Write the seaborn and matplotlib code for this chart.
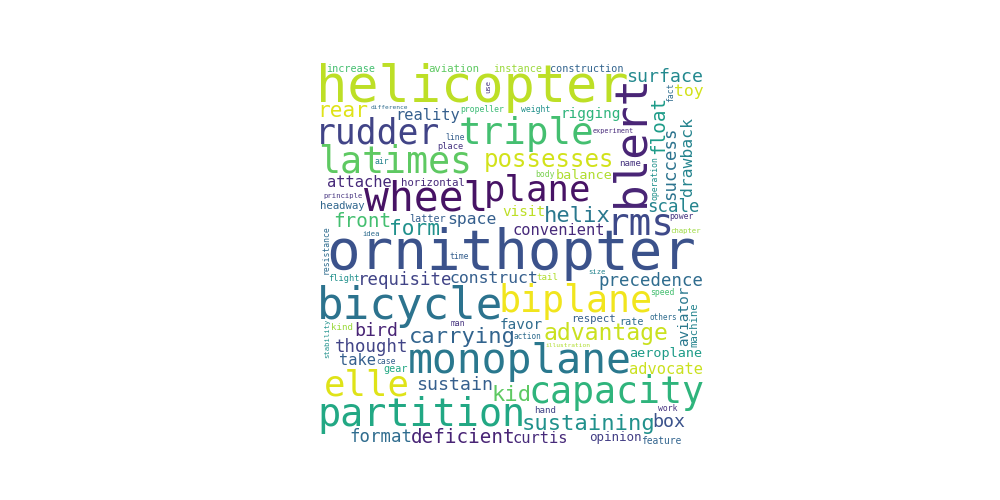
import numpy as np
import matplotlib
matplotlib.use("Agg")
import matplotlib.pyplot as plt
import seaborn as sns
from matplotlib import font_manager
from matplotlib.ft2font import FT2Font

# word weights (bigger = more frequent)
words = ["ornithopter", "helicopter", "bicycle", "blert", "monoplane", "wheel",
         "partition", "rms", "triple", "biplane", "latimes", "capacity", "plane",
         "elle", "rudder", "possesses", "advantage", "sustaining", "carrying",
         "helix", "kid", "form", "rear", "float", "precedence", "deficient",
         "front", "box", "convenient", "requisite", "bird", "surface", "sustain",
         "thought", "format", "scale", "aeroplane", "reality", "attache",
         "rigging", "success", "space", "construct", "toy", "drawback",
         "aviator", "take", "opinion", "advocate", "curtis", "favor", "balance",
         "visit", "horizontal", "aviation", "headway", "respect", "machine",
         "latter", "increase", "rate", "instance", "gear", "construction",
         "feature", "tail", "propeller", "kind", "name", "hand", "place",
         "flight", "speed", "weight", "man", "air", "work", "body", "principle",
         "resistance", "fact", "illustration", "line", "case", "power",
         "operation", "time", "difference", "others", "experiment", "action",
         "idea", "chapter", "size", "use", "stability"]
weights = [58, 54, 46, 46, 43, 43,
           40, 39, 39, 38, 38, 38, 37,
           37, 36, 25, 24, 23, 23,
           23, 23, 22, 22, 20, 21, 20,
           20, 19, 19, 19, 19, 19, 19,
           18, 18, 18, 18, 18, 18,
           18, 18, 17, 17, 17, 17,
           16, 16, 16, 16, 16, 15, 15,
           15, 14, 12, 11, 11, 11,
           10.5, 10.5, 10.5, 10.5, 10.5, 10.5,
           10, 9.5, 9.5, 9.5, 9.5, 9.5, 9,
           9, 8.5, 8.5, 8.5, 8.5, 8.5, 8.5, 8.5,
           8.5, 8.5, 8.5, 8.5, 8.5, 8.5,
           8.5, 8.5, 8.5, 8, 8, 8,
           7.5, 7.5, 7.5, 7.5, 7.5]
# position of each word's colour on the viridis scale
shades = [0.25, 0.90, 0.38, 0.10, 0.40, 0.05,
          0.60, 0.22, 0.70, 0.98, 0.75, 0.65, 0.05,
          0.95, 0.20, 0.93, 0.92, 0.50, 0.32,
          0.40, 0.75, 0.50, 0.95, 0.55, 0.35, 0.10,
          0.70, 0.25, 0.12, 0.20, 0.10, 0.47, 0.30,
          0.20, 0.35, 0.45, 0.55, 0.30, 0.12,
          0.65, 0.38, 0.30, 0.30, 0.93, 0.45,
          0.40, 0.30, 0.18, 0.92, 0.12, 0.35, 0.88,
          0.90, 0.12, 0.75, 0.33, 0.30, 0.45,
          0.30, 0.70, 0.35, 0.85, 0.60, 0.32,
          0.32, 0.88, 0.68, 0.85, 0.15, 0.20, 0.15,
          0.50, 0.70, 0.50, 0.15, 0.45, 0.15, 0.80, 0.15,
          0.35, 0.35, 0.88, 0.30, 0.30, 0.15,
          0.50, 0.30, 0.35, 0.35, 0.12, 0.35,
          0.35, 0.85, 0.45, 0.15, 0.50]
vertical = {"blert", "success", "machine", "float", "aviator", "drawback",
            "operation", "resistance", "fact", "stability", "use"}

CANVAS = 400      # layout grid, like a 400x400 word cloud image
MARGIN = 2
AX_PX = 385       # on-screen size of the square cloud

sns.set_style("white")
cmap = sns.color_palette("viridis", as_cmap=True)
prop = font_manager.FontProperties(family="DejaVu Sans Mono")
ft = FT2Font(font_manager.findfont(prop))


def glyph_mask(word, px):
    ft.clear()
    ft.set_size(px, 72)
    ft.set_text(word, 0.0)
    ft.draw_glyphs_to_bitmap(antialiased=True)
    img = np.asarray(ft.get_image())
    d = ft.get_descent() / 64.0
    xo = ft.get_bitmap_offset()[0] / 64.0
    return img > 30, d, xo


# greedy layout: biggest words first, each into the free box nearest
# to a target that walks over the square in a low-discrepancy pattern
occ = np.zeros((CANVAS, CANVAS), dtype=bool)
placed = []
order = sorted(range(len(words)), key=lambda n: -weights[n])
for k, n in enumerate(order):
    word = words[n]
    px = weights[n]
    vert = word in vertical
    tx = CANVAS * ((0.5 + k * 0.7548776662) % 1)
    ty = CANVAS * ((0.5 + k * 0.5698402910) % 1)
    while px >= 5:
        m, d, xo = glyph_mask(word, px)
        hi, wi = m.shape
        if vert:
            m = np.rot90(m)
        h, w = m.shape
        H, W = h + MARGIN, w + MARGIN
        if H <= CANVAS and W <= CANVAS:
            ii = np.zeros((CANVAS + 1, CANVAS + 1))
            ii[1:, 1:] = occ.cumsum(0).cumsum(1)
            s = ii[H:, W:] - ii[:-H, W:] - ii[H:, :-W] + ii[:-H, :-W]
            free = np.argwhere(s == 0)
            if len(free):
                dist = (free[:, 0] + H / 2 - ty) ** 2 + (free[:, 1] + W / 2 - tx) ** 2
                i, j = free[np.argmin(dist)]
                i, j = i + MARGIN // 2, j + MARGIN // 2
                occ[i:i + h, j:j + w] |= m
                if vert:
                    x0, y0 = j + hi - d - xo, i + wi - 1
                else:
                    x0, y0 = j - xo, i + hi - d
                placed.append((word, px, x0, y0, vert, shades[n]))
                break
        px -= 1

fig = plt.figure(figsize=(10, 5), dpi=100)
ax = fig.add_axes([0.32, 0.11, AX_PX / 1000, AX_PX / 500])
ax.set_xlim(0, CANVAS)
ax.set_ylim(CANVAS, 0)
ax.axis("off")
pt = (AX_PX / CANVAS) * 72 / 100
for word, px, x0, y0, vert, shade in placed:
    ax.text(x0, y0, word, fontproperties=prop, fontsize=px * pt,
            color=cmap(shade), ha="left", va="baseline",
            rotation=90 if vert else 0, rotation_mode="anchor")

fig.savefig("out.png", dpi=100)
